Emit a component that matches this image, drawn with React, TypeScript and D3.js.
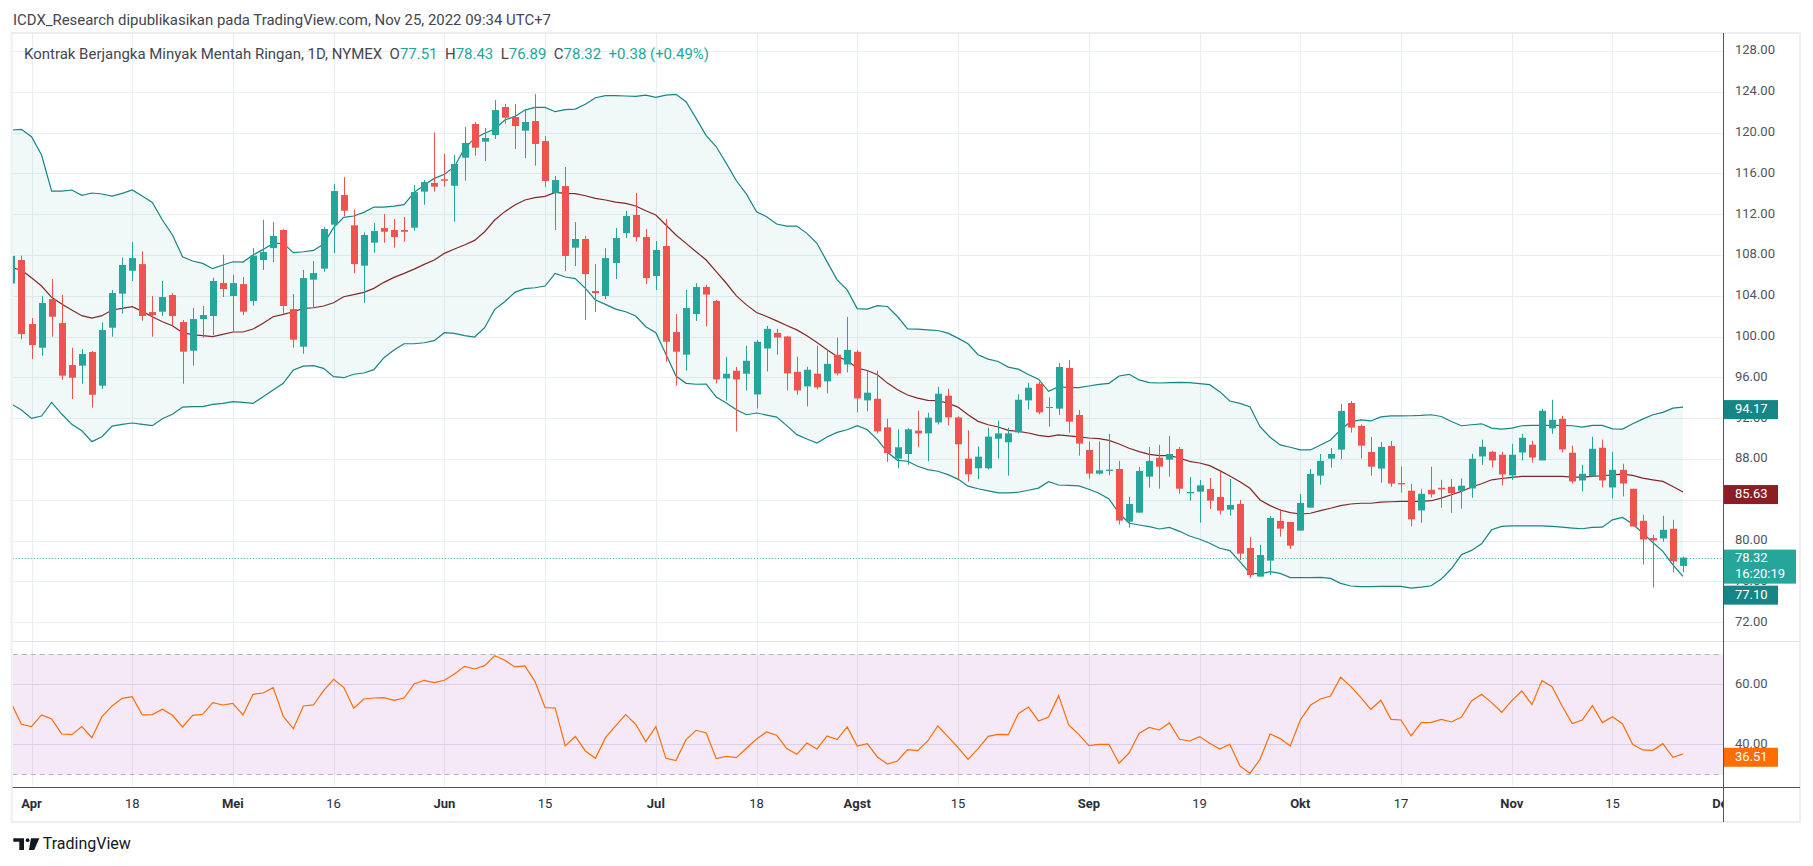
import * as d3 from 'd3';

// Trading days shown (CL1! daily, NYMEX holidays skipped)
const HOLIDAYS = ['2022-04-15', '2022-05-30', '2022-06-20', '2022-07-04', '2022-09-05', '2022-11-24'];
const fmt = d3.timeFormat('%Y-%m-%d');
const days = d3.timeDay
    .range(new Date(2022, 2, 30), new Date(2022, 11, 6))
    .filter((d) => d.getDay() !== 0 && d.getDay() !== 6)
    .map(fmt)
    .filter((s) => !HOLIDAYS.includes(s));

// OHLC from 30 Mar 2022 to 25 Nov 2022
const open = [105.2, 107.5, 101.22, 98.9, 103.67, 101.32, 97.2, 97.14, 98.48, 95.18, 100.86, 104.2, 106.45, 107.1, 102.4, 102.43, 104.07, 101.42, 98.61, 101.71, 102.01, 105.24, 103.97, 105.14, 103.48, 107.5, 108.67, 110.44, 102.69, 99.0, 105.57, 106.65, 110.96, 113.87, 110.9, 106.94, 109.2, 110.63, 110.44, 110.44, 110.67, 114.2, 115.05, 115.41, 114.78, 117.53, 120.83, 119.1, 119.75, 122.5, 121.52, 120.18, 121.12, 119.16, 114.07, 114.75, 108.71, 109.56, 104.46, 103.97, 107.2, 110.14, 111.91, 109.75, 105.93, 108.87, 100.44, 98.22, 102.2, 104.86, 103.49, 95.89, 96.64, 96.35, 94.32, 98.83, 100.36, 100.0, 96.54, 95.11, 96.35, 95.6, 98.21, 97.26, 98.5, 93.74, 93.9, 91.09, 88.03, 88.48, 90.77, 90.5, 91.58, 94.19, 92.07, 88.03, 87.08, 87.08, 89.98, 89.63, 90.6, 93.74, 95.37, 93.03, 92.93, 96.92, 92.31, 88.88, 86.56, 86.82, 87.01, 81.85, 82.73, 86.26, 88.12, 87.93, 88.97, 84.63, 84.79, 85.05, 84.27, 83.03, 83.58, 79.27, 76.46, 78.03, 81.92, 81.82, 80.97, 83.22, 86.36, 88.03, 88.91, 93.48, 91.23, 88.68, 87.05, 89.27, 85.63, 84.88, 82.95, 84.97, 85.17, 85.27, 84.88, 85.1, 88.24, 88.7, 88.41, 86.38, 88.63, 89.39, 87.85, 90.99, 91.93, 88.6, 85.89, 86.28, 89.09, 85.2, 86.93, 85.07, 81.93, 80.24, 80.2, 81.15, 77.51];
const high = [108.4, 107.92, 101.81, 103.97, 105.63, 104.07, 98.9, 98.77, 98.58, 101.39, 104.56, 107.73, 109.26, 108.35, 103.97, 105.44, 104.26, 101.61, 102.79, 102.99, 105.76, 108.02, 106.03, 105.83, 108.67, 111.45, 111.22, 110.54, 104.16, 106.52, 107.4, 110.76, 114.95, 115.63, 112.45, 110.21, 111.12, 112.01, 111.52, 111.71, 114.85, 115.34, 120.01, 117.89, 117.79, 120.54, 121.03, 120.44, 123.18, 122.79, 122.79, 122.3, 123.77, 119.65, 115.73, 116.61, 111.22, 109.85, 107.1, 108.67, 110.63, 112.3, 114.07, 110.54, 109.36, 111.52, 102.2, 104.56, 105.24, 105.06, 103.59, 98.01, 97.03, 99.09, 99.67, 101.04, 100.75, 100.07, 98.01, 97.03, 99.09, 98.69, 99.87, 101.92, 98.69, 96.67, 96.67, 91.94, 90.9, 91.0, 92.72, 92.53, 95.07, 94.88, 92.17, 90.8, 89.23, 91.06, 91.75, 91.06, 94.32, 95.46, 95.56, 94.04, 97.41, 97.7, 92.8, 89.69, 89.69, 90.44, 87.8, 84.27, 87.21, 89.17, 89.37, 90.25, 89.17, 86.23, 85.93, 86.13, 86.72, 86.03, 83.97, 80.35, 79.56, 82.41, 83.09, 81.82, 84.56, 87.01, 88.48, 89.07, 93.39, 93.68, 91.39, 90.15, 89.66, 89.76, 87.23, 85.56, 85.07, 87.23, 85.95, 86.02, 86.08, 88.5, 89.88, 88.8, 88.7, 89.48, 90.46, 89.78, 92.92, 93.8, 92.23, 89.29, 87.42, 90.17, 89.88, 88.7, 87.52, 85.07, 82.52, 80.56, 82.42, 82.03, 78.43];
const low = [104.3, 99.72, 97.79, 98.12, 99.98, 95.76, 93.87, 95.37, 93.02, 94.85, 99.98, 102.24, 105.44, 101.55, 99.98, 102.01, 101.12, 95.37, 97.14, 99.88, 100.14, 103.87, 100.47, 102.1, 103.02, 106.52, 107.3, 102.27, 98.9, 98.31, 102.86, 106.35, 108.18, 111.81, 106.2, 103.31, 108.22, 109.2, 108.71, 109.29, 110.37, 112.92, 114.2, 114.69, 111.25, 115.27, 117.73, 117.2, 119.36, 120.86, 118.38, 117.5, 116.75, 114.65, 110.44, 106.42, 106.91, 101.61, 102.4, 103.67, 105.63, 109.65, 109.3, 105.14, 104.56, 97.53, 95.18, 96.65, 101.52, 100.98, 95.4, 93.7, 90.7, 94.71, 92.95, 96.57, 98.21, 94.71, 94.29, 93.15, 94.81, 94.42, 96.18, 96.48, 92.56, 92.66, 90.5, 87.7, 87.08, 87.41, 89.14, 87.77, 91.39, 91.29, 86.04, 85.77, 86.0, 86.95, 88.03, 86.36, 90.5, 92.85, 92.37, 91.16, 92.31, 90.58, 88.32, 86.07, 86.46, 86.39, 81.56, 81.26, 82.73, 85.18, 85.08, 86.26, 84.59, 83.91, 81.75, 83.09, 82.54, 82.44, 78.09, 76.33, 76.46, 76.62, 80.38, 79.17, 80.97, 83.22, 85.48, 87.14, 87.99, 90.58, 88.03, 86.36, 85.67, 85.28, 84.71, 81.38, 81.74, 84.22, 83.21, 82.72, 83.11, 84.19, 87.42, 87.16, 85.4, 85.95, 87.85, 87.65, 87.85, 90.46, 88.63, 85.59, 84.81, 86.28, 85.2, 84.12, 84.32, 81.38, 77.65, 75.4, 79.88, 76.87, 76.89];
const close = [107.9, 100.24, 99.16, 103.28, 101.94, 96.16, 95.96, 98.28, 94.29, 100.63, 104.26, 107.01, 107.69, 102.01, 102.1, 103.87, 102.01, 98.51, 101.71, 102.1, 105.44, 104.65, 105.24, 102.43, 107.92, 108.28, 109.85, 102.99, 99.69, 105.73, 106.22, 110.54, 114.26, 112.33, 107.1, 109.95, 110.34, 110.27, 109.75, 110.27, 114.16, 115.14, 114.69, 115.27, 116.91, 118.97, 118.51, 119.46, 122.2, 121.45, 120.63, 121.03, 118.87, 115.24, 115.34, 107.89, 109.56, 106.12, 104.26, 107.69, 109.65, 111.81, 109.75, 105.73, 108.48, 99.49, 98.51, 102.79, 104.85, 104.11, 95.79, 96.35, 95.79, 97.62, 99.48, 100.75, 99.9, 96.38, 94.71, 96.74, 95.01, 97.32, 96.38, 98.69, 93.93, 94.49, 90.7, 88.58, 89.14, 90.9, 90.5, 92.04, 94.39, 92.07, 89.43, 86.49, 88.22, 90.18, 90.5, 90.5, 93.8, 94.98, 92.56, 93.09, 97.01, 91.65, 89.5, 86.56, 86.88, 86.95, 81.95, 83.58, 86.82, 87.8, 87.24, 88.48, 85.08, 84.76, 85.41, 83.91, 82.93, 83.48, 78.71, 76.62, 78.58, 82.21, 81.16, 79.5, 83.68, 86.52, 87.8, 88.48, 92.7, 91.07, 89.3, 87.24, 89.17, 85.58, 85.5, 82.07, 84.58, 84.52, 85.01, 84.65, 85.37, 88.01, 89.19, 87.85, 86.48, 88.41, 90.07, 88.14, 92.72, 91.84, 88.93, 85.79, 86.54, 88.99, 85.89, 86.93, 85.59, 81.38, 80.1, 80.01, 81.05, 77.95, 78.32];

// Bollinger Bands (20, 2) as drawn
const bbUpper = [120.24, 120.31, 119.59, 117.79, 114.26, 114.26, 114.36, 113.84, 114.07, 113.97, 113.77, 114.03, 114.36, 113.77, 113.15, 111.42, 109.95, 107.82, 107.4, 107.17, 106.65, 107.01, 107.33, 107.3, 107.99, 108.54, 109.13, 109.13, 108.22, 108.31, 108.44, 109.07, 110.67, 111.68, 111.81, 112.17, 112.69, 112.69, 112.79, 112.92, 114.13, 114.85, 115.5, 115.9, 116.65, 118.44, 119.42, 119.92, 120.34, 121.22, 121.58, 122.2, 122.46, 122.46, 122.04, 122.24, 122.3, 122.76, 123.41, 123.61, 123.61, 123.58, 123.54, 123.67, 123.44, 123.67, 123.74, 123.02, 121.39, 119.7, 118.6, 116.97, 115.27, 113.96, 112.23, 111.75, 111.03, 110.83, 110.83, 110.11, 109.14, 107.34, 105.55, 104.57, 102.74, 102.68, 103.03, 102.94, 101.96, 100.75, 100.72, 100.65, 100.59, 100.33, 99.84, 99.28, 98.21, 97.78, 97.55, 97.0, 96.8, 96.28, 95.82, 94.63, 95.08, 94.99, 94.99, 95.15, 95.31, 95.41, 96.13, 96.29, 95.74, 95.48, 95.44, 95.48, 95.51, 95.48, 95.38, 95.28, 94.59, 93.68, 93.45, 93.12, 91.16, 90.12, 89.37, 89.14, 88.88, 88.88, 89.37, 89.86, 90.84, 91.65, 91.82, 91.72, 92.12, 92.22, 92.22, 92.23, 92.26, 92.33, 92.16, 91.67, 91.25, 91.35, 91.44, 91.02, 90.92, 91.02, 91.25, 91.28, 91.28, 91.28, 91.28, 91.25, 91.12, 91.28, 91.28, 90.95, 90.92, 91.44, 91.9, 92.33, 92.56, 92.98, 93.08];
const bbBasis = [106.75, 106.52, 105.76, 104.95, 103.84, 103.18, 102.59, 102.04, 101.81, 102.04, 102.6, 102.76, 102.92, 102.46, 101.94, 101.45, 101.06, 100.37, 100.18, 100.08, 99.98, 100.2, 100.44, 100.44, 100.73, 101.29, 101.94, 102.17, 102.43, 102.76, 102.82, 102.99, 103.31, 103.9, 104.1, 104.33, 104.72, 105.31, 105.8, 106.19, 106.61, 107.07, 107.5, 108.15, 108.58, 108.97, 109.42, 110.27, 111.42, 112.24, 112.89, 113.38, 113.61, 113.74, 114.13, 114.03, 114.0, 113.8, 113.54, 113.38, 113.18, 113.05, 112.79, 112.33, 111.91, 110.93, 109.95, 109.13, 108.31, 107.5, 106.36, 105.22, 103.98, 103.1, 102.35, 101.96, 101.53, 101.08, 100.65, 100.07, 99.41, 98.7, 98.04, 97.65, 96.9, 96.67, 96.25, 95.43, 94.78, 94.26, 93.96, 93.74, 93.7, 93.47, 93.08, 92.33, 91.68, 91.35, 91.13, 90.8, 90.7, 90.54, 90.3, 90.18, 90.35, 90.25, 90.15, 90.05, 89.99, 89.82, 89.46, 89.04, 88.71, 88.45, 88.32, 88.32, 88.09, 87.76, 87.6, 87.34, 86.85, 86.33, 85.77, 85.12, 83.97, 83.42, 82.99, 82.73, 82.6, 82.67, 82.93, 83.16, 83.42, 83.58, 83.65, 83.65, 83.76, 83.8, 83.83, 83.83, 83.83, 83.9, 84.16, 84.48, 84.81, 85.24, 85.56, 85.95, 86.08, 86.18, 86.28, 86.28, 86.28, 86.28, 86.28, 86.22, 86.22, 86.28, 86.35, 86.44, 86.51, 86.38, 86.12, 85.95, 85.79, 85.3, 84.75];
const bbLower = [93.38, 92.79, 91.97, 92.2, 93.54, 92.4, 91.39, 90.76, 89.69, 90.18, 91.22, 91.39, 91.52, 91.39, 91.26, 91.94, 92.37, 93.08, 93.12, 93.12, 93.35, 93.44, 93.61, 93.54, 93.44, 94.1, 94.75, 95.41, 96.71, 97.1, 97.14, 96.88, 96.06, 95.96, 96.3, 96.42, 96.75, 97.92, 98.67, 99.29, 99.29, 99.39, 99.59, 100.37, 100.31, 100.08, 99.95, 100.86, 102.66, 103.41, 104.33, 104.69, 104.78, 104.95, 106.19, 105.83, 105.67, 104.72, 103.58, 103.15, 102.69, 102.43, 102.01, 100.96, 100.37, 98.25, 96.12, 95.41, 95.32, 95.33, 94.06, 93.47, 92.82, 92.33, 92.5, 92.3, 92.1, 91.26, 90.38, 89.95, 89.56, 90.15, 90.6, 90.86, 91.26, 90.86, 89.89, 88.65, 87.86, 87.77, 87.28, 86.95, 86.79, 86.46, 86.02, 85.33, 85.07, 84.87, 84.67, 84.67, 84.73, 84.93, 85.14, 85.77, 85.44, 85.41, 85.35, 85.02, 84.63, 84.07, 82.67, 81.69, 81.52, 81.36, 81.13, 81.29, 80.9, 80.44, 80.12, 79.73, 79.24, 79.01, 77.93, 76.78, 76.72, 76.95, 76.78, 76.36, 76.36, 76.36, 76.39, 76.29, 75.8, 75.54, 75.48, 75.48, 75.5, 75.5, 75.5, 75.33, 75.43, 75.56, 76.22, 77.23, 78.6, 79.03, 79.68, 81.05, 81.38, 81.44, 81.44, 81.44, 81.44, 81.38, 81.31, 81.22, 81.15, 81.28, 81.31, 82.03, 82.26, 81.61, 80.73, 79.81, 78.93, 77.62, 76.48];

// RSI (14)
const rsi = [53.6, 46.67, 45.89, 49.78, 48.44, 43.44, 43.22, 45.89, 42.22, 49.22, 52.78, 55.33, 55.89, 49.78, 49.89, 51.67, 49.67, 45.78, 49.67, 50.0, 53.89, 53.11, 53.67, 49.78, 56.67, 57.11, 58.89, 49.33, 45.22, 52.78, 53.11, 57.89, 61.67, 59.0, 52.0, 55.11, 55.44, 55.56, 54.67, 55.44, 60.11, 61.33, 60.56, 61.33, 63.44, 66.0, 65.11, 66.22, 69.56, 68.0, 65.78, 66.11, 60.89, 52.22, 52.11, 39.44, 42.6, 37.78, 35.33, 42.22, 46.11, 49.89, 46.67, 40.89, 45.89, 35.33, 34.56, 41.56, 44.67, 43.78, 35.22, 36.0, 35.56, 38.67, 41.78, 44.11, 43.0, 38.56, 36.67, 40.44, 38.44, 42.78, 41.56, 45.78, 39.44, 40.22, 35.78, 33.44, 34.44, 38.22, 37.89, 41.11, 46.11, 42.56, 39.0, 35.0, 38.56, 42.67, 43.33, 43.22, 50.22, 52.44, 47.78, 49.11, 56.22, 46.44, 43.33, 39.56, 40.0, 40.0, 33.67, 37.11, 43.67, 45.6, 44.78, 47.11, 41.67, 41.11, 42.56, 40.33, 38.44, 40.0, 32.78, 30.33, 35.0, 43.44, 41.89, 39.44, 48.11, 53.0, 55.11, 56.11, 62.33, 59.33, 55.67, 51.67, 54.67, 48.33, 48.11, 42.78, 47.22, 47.33, 48.33, 47.44, 49.11, 54.44, 56.67, 53.89, 50.67, 54.56, 57.78, 53.22, 61.22, 59.22, 52.78, 46.89, 48.11, 52.89, 47.22, 49.22, 46.78, 40.0, 38.11, 38.0, 40.22, 35.67, 36.78];

const PRICE_TICKS = [72, 76, 80, 84, 88, 92, 96, 100, 104, 108, 112, 116, 120, 124, 128];
const RSI_TICKS = [40, 60];
const RSI_BANDS = [30, 70];
const TIME_TICKS = [
    { d: '2022-04-01', t: 'Apr', month: true },
    { d: '2022-04-18', t: '18', month: false },
    { d: '2022-05-02', t: 'Mei', month: true },
    { d: '2022-05-16', t: '16', month: false },
    { d: '2022-06-01', t: 'Jun', month: true },
    { d: '2022-06-15', t: '15', month: false },
    { d: '2022-07-01', t: 'Jul', month: true },
    { d: '2022-07-18', t: '18', month: false },
    { d: '2022-08-01', t: 'Agst', month: true },
    { d: '2022-08-15', t: '15', month: false },
    { d: '2022-09-01', t: 'Sep', month: true },
    { d: '2022-09-19', t: '19', month: false },
    { d: '2022-10-03', t: 'Okt', month: true },
    { d: '2022-10-17', t: '17', month: false },
    { d: '2022-11-01', t: 'Nov', month: true },
    { d: '2022-11-15', t: '15', month: false },
    { d: '2022-12-01', t: 'Des', month: true },
];
const LAST = { upper: '94.17', basis: '85.63', price: '78.32', countdown: '16:20:19', lower: '77.10', rsi: '36.51' };

const W = 1813;
const H = 866;
const PANE_L = 12.7;
const PANE_R = 1723;
const FRAME_R = 1800;
const PRICE_T = 33;
const PRICE_B = 641;
const RSI_B = 787;
const FRAME_B = 822;
const STEP = 10.07;
const X0 = 11.36;

const UP = '#26a69a';
const DOWN = '#ef5350';
const BAND = '#158585';
const BASIS = '#862727';
const GRID = '#e8eef3';
const FONT = "'Trebuchet MS', Roboto, 'Noto Sans', sans-serif";
const GAP = '\u00a0\u00a0';

function App() {
    const xs = d3.scalePoint<string>()
        .domain(days)
        .range([X0, X0 + (days.length - 1) * STEP]);
    const x = (k: number) => xs(days[k]) as number;
    const yP = d3.scaleLinear().domain([72, 128]).range([622.1, 50.9]);
    const yR = d3.scaleLinear().domain([30, 70]).range([774.3, 654.3]);

    const bandArea = d3.area<number>()
        .x((_, k) => x(k))
        .y0((_, k) => yP(bbLower[k]))
        .y1((v) => yP(v));
    const priceLine = d3.line<number>().x((_, k) => x(k)).y((v) => yP(v));
    const rsiLine = d3.line<number>().x((_, k) => x(k)).y((v) => yR(v));

    const n = close.length;
    const lastY = yP(close[n - 1]);

    return (
        <div style={{ position: 'fixed', left: 0, top: 0 }}>
            <svg width={W} height={H} style={{ display: 'block', background: '#fff', fontFamily: FONT }}>
                <defs>
                    <clipPath id="pricePane"><rect x={PANE_L} y={PRICE_T} width={PANE_R - PANE_L} height={PRICE_B - PRICE_T} /></clipPath>
                    <clipPath id="rsiPane"><rect x={PANE_L} y={PRICE_B} width={PANE_R - PANE_L} height={RSI_B - PRICE_B} /></clipPath>
                    <clipPath id="timeAxis"><rect x={PANE_L} y={RSI_B} width={PANE_R - PANE_L} height={FRAME_B - RSI_B} /></clipPath>
                </defs>

                {/* header */}
                <text x={13} y={21} fontSize={14} fill="#434651" dominantBaseline="middle" textLength={538} lengthAdjust="spacingAndGlyphs">
                    ICDX_Research dipublikasikan pada TradingView.com, Nov 25, 2022 09:34 UTC+7
                </text>

                {/* grid */}
                <g clipPath="url(#pricePane)">
                    {PRICE_TICKS.map((v) => (
                        <line key={v} x1={PANE_L} x2={PANE_R} y1={Math.round(yP(v)) + 0.5} y2={Math.round(yP(v)) + 0.5} stroke={GRID} />
                    ))}
                </g>
                {TIME_TICKS.filter((t) => (xs(t.d) as number) < PANE_R - 2).map((t) => {
                    const gx = Math.round(xs(t.d) as number) + 0.5;
                    return <line key={t.d} x1={gx} x2={gx} y1={PRICE_T} y2={RSI_B} stroke={GRID} />;
                })}
                {RSI_TICKS.map((v) => (
                    <line key={v} x1={PANE_L} x2={PANE_R} y1={Math.round(yR(v)) + 0.5} y2={Math.round(yR(v)) + 0.5} stroke="#e3e3ef" />
                ))}

                {/* legend */}
                <text x={24} y={55} fontSize={14} dominantBaseline="middle" textLength={685} lengthAdjust="spacingAndGlyphs" fill="#434651">
                    {'Kontrak Berjangka Minyak Mentah Ringan, 1D, NYMEX' + GAP}O<tspan fill={UP}>77.51</tspan>{GAP}H<tspan fill={UP}>78.43</tspan>{GAP}L<tspan fill={UP}>76.89</tspan>{GAP}C<tspan fill={UP}>78.32</tspan>{GAP}<tspan fill={UP}>{'+0.38\u00a0(+0.49%)'}</tspan>
                </text>

                {/* price pane */}
                <g clipPath="url(#pricePane)">
                    <path d={bandArea(bbUpper) ?? ''} fill="rgba(25,135,135,0.06)" />
                    <path d={priceLine(bbUpper) ?? ''} fill="none" stroke={BAND} strokeWidth={1.2} />
                    <path d={priceLine(bbLower) ?? ''} fill="none" stroke={BAND} strokeWidth={1.2} />
                    <path d={priceLine(bbBasis) ?? ''} fill="none" stroke={BASIS} strokeWidth={1.2} />
                    {close.map((c, k) => {
                        const o = open[k];
                        const col = c >= o ? UP : DOWN;
                        const cx = Math.round(x(k));
                        const top = yP(Math.max(o, c));
                        const bot = yP(Math.min(o, c));
                        return (
                            <g key={k}>
                                <line x1={cx + 0.5} x2={cx + 0.5} y1={yP(high[k])} y2={yP(low[k])} stroke={col} strokeWidth={1} />
                                <rect x={cx - 3} y={top} width={7} height={Math.max(1, bot - top)} fill={col} />
                            </g>
                        );
                    })}
                    <line x1={PANE_L} x2={PANE_R} y1={Math.round(lastY) + 0.5} y2={Math.round(lastY) + 0.5} stroke={UP} strokeDasharray="1 2" />
                </g>

                {/* rsi pane */}
                <g clipPath="url(#rsiPane)">
                    <rect x={PANE_L} y={yR(70)} width={PANE_R - PANE_L} height={yR(30) - yR(70)} fill="rgba(156,39,176,0.1)" />
                    {RSI_BANDS.map((v) => (
                        <line key={v} x1={PANE_L} x2={PANE_R} y1={Math.round(yR(v)) + 0.5} y2={Math.round(yR(v)) + 0.5} stroke="#b7b0c2" strokeDasharray="5 4" />
                    ))}
                    <path d={rsiLine(rsi) ?? ''} fill="none" stroke="#ff6d00" strokeWidth={1.2} />
                </g>

                {/* frame and axes */}
                <rect x={PANE_L - 1} y={PRICE_T} width={FRAME_R - PANE_L + 1} height={FRAME_B - PRICE_T} fill="none" stroke="#eceef2" strokeWidth={2} />
                <line x1={PANE_L} x2={FRAME_R} y1={PRICE_B + 0.5} y2={PRICE_B + 0.5} stroke="#e0e3eb" />
                <line x1={PANE_L} x2={FRAME_R} y1={RSI_B + 0.5} y2={RSI_B + 0.5} stroke="#50535e" />
                <line x1={PANE_R + 0.5} x2={PANE_R + 0.5} y1={PRICE_T} y2={FRAME_B} stroke="#50535e" />

                {/* price axis */}
                {PRICE_TICKS.map((v) => (
                    <text key={v} x={1735} y={yP(v)} fontSize={13} fill="#50535e" dominantBaseline="middle">{v.toFixed(2)}</text>
                ))}
                {RSI_TICKS.map((v) => (
                    <text key={v} x={1735} y={yR(v)} fontSize={13} fill="#50535e" dominantBaseline="middle">{v.toFixed(2)}</text>
                ))}

                {/* last value labels */}
                <g fontSize={13} fill="#fff">
                    <rect x={PANE_R + 1} y={yP(bbUpper[n - 1]) - 7} width={54} height={19} fill={BAND} />
                    <text x={1735} y={yP(bbUpper[n - 1]) + 2.5} dominantBaseline="middle">{LAST.upper}</text>
                    <rect x={PANE_R + 1} y={yP(bbBasis[n - 1]) - 7} width={54} height={19} fill="#8b1e25" />
                    <text x={1735} y={yP(bbBasis[n - 1]) + 2.5} dominantBaseline="middle">{LAST.basis}</text>
                    <rect x={PANE_R + 1} y={lastY - 8} width={72} height={34} fill={UP} />
                    <text x={1735} y={lastY + 1} dominantBaseline="middle">{LAST.price}</text>
                    <text x={1735} y={lastY + 17} dominantBaseline="middle">{LAST.countdown}</text>
                    <rect x={PANE_R + 1} y={lastY + 28} width={54} height={19} fill={BAND} />
                    <text x={1735} y={lastY + 38} dominantBaseline="middle">{LAST.lower}</text>
                    <rect x={PANE_R + 1} y={yR(36.51) - 7} width={54} height={19} fill="#ff6d00" />
                    <text x={1735} y={yR(36.51) + 2.5} dominantBaseline="middle">{LAST.rsi}</text>
                </g>

                {/* time axis */}
                <g clipPath="url(#timeAxis)">
                    {TIME_TICKS.map((t) => (
                        <text key={t.d} x={xs(t.d) as number} y={805} fontSize={13} textAnchor="middle" dominantBaseline="middle"
                            fill="#2a2e39" fontWeight={t.month ? 700 : 400}>{t.t}</text>
                    ))}
                </g>

                {/* TradingView mark */}
                <g fill="#131722">
                    <path d="M13.3 838.3 H24 V850 H19.3 V841.7 H13.3 Z" />
                    <circle cx={27.6} cy={840.2} r={1.9} />
                    <path d="M31 838.3 H39.3 L34.2 850 H28.9 Z" />
                </g>
                <text x={42.7} y={845} fontSize={16} fill="#131722" dominantBaseline="middle">TradingView</text>
            </svg>
        </div>
    );
}

export default App;
